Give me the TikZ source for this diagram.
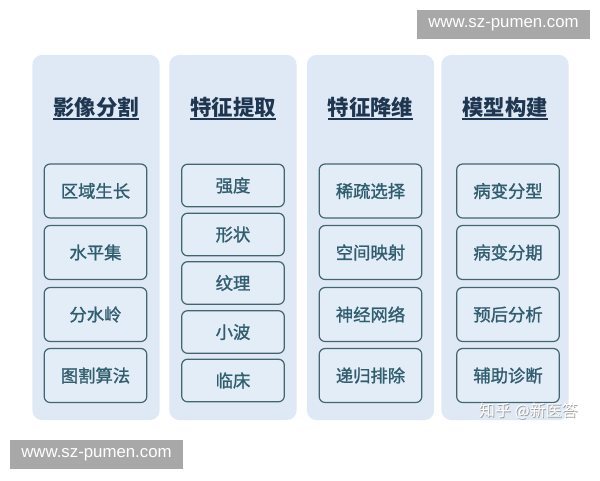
\documentclass[tikz,border=0pt]{standalone}
\usepackage{fontspec}
\newfontfamily\cjk{Noto Sans CJK SC}
\newfontfamily\cjkmed[FakeBold=1.3]{Noto Sans CJK SC}
\newfontfamily\wmfont{Liberation Sans}
\definecolor{panelfill}{HTML}{DFE9F5}
\definecolor{boxfill}{HTML}{E3EDF8}
\definecolor{boxline}{HTML}{42666F}
\definecolor{titlecol}{HTML}{1E3650}
\definecolor{boxtext}{HTML}{315E6E}
\definecolor{wmgray}{HTML}{A8A8A8}
\begin{document}
\begin{tikzpicture}[x=0.75pt,y=-0.75pt,
  panel/.style={fill=panelfill,rounded corners=7.5pt,minimum width=95.5pt,minimum height=274pt,inner sep=0pt},
  coltitle/.style={font=\cjk\bfseries\fontsize{16}{18}\selectfont,text=titlecol,inner sep=0pt},
  tallbox/.style={draw=boxline,line width=0.9pt,fill=boxfill,rounded corners=4.5pt,minimum width=77pt,minimum height=40.5pt,inner sep=0pt,font=\cjkmed\fontsize{13}{15}\selectfont,text=boxtext},
  shortbox/.style={tallbox,minimum height=32pt},
  wmbox/.style={fill=wmgray,inner sep=0pt,font=\wmfont\fontsize{12.6}{14}\selectfont,text=white},
  uline/.style={draw=titlecol,line width=1.1pt}
]
\useasboundingbox (0,0) rectangle (600,480);
% panels
\node[panel] (p1) at (96,237.5) {};
\node[panel] (p2) at (233,237.5) {};
\node[panel] (p3) at (370.5,237.5) {};
\node[panel] (p4) at (505,237.5) {};
% titles
\node[coltitle] (t1) at (96,107) {影像分割};
\node[coltitle] (t2) at (233,107) {特征提取};
\node[coltitle] (t3) at (370.5,107) {特征降维};
\node[coltitle] (t4) at (505,107) {模型构建};
\foreach \t in {t1,t2,t3,t4}{
  \draw[uline] ([yshift=-1.2pt]\t.south west) -- ([yshift=-1.2pt]\t.south east);
}
% column 1
\node[tallbox] (a1) at (95.5,191) {区域生长};
\node[tallbox] (a2) at (95.5,252.5) {水平集};
\node[tallbox] (a3) at (95.5,314.5) {分水岭};
\node[tallbox] (a4) at (95.5,375.5) {图割算法};
% column 2
\node[shortbox] (b1) at (233,185.5) {强度};
\node[shortbox] (b2) at (233,234.5) {形状};
\node[shortbox] (b3) at (233,283) {纹理};
\node[shortbox] (b4) at (233,332) {小波};
\node[shortbox] (b5) at (233,380.5) {临床};
% column 3
\node[tallbox] (c1) at (370.5,191) {稀疏选择};
\node[tallbox] (c2) at (370.5,252.5) {空间映射};
\node[tallbox] (c3) at (370.5,314.5) {神经网络};
\node[tallbox] (c4) at (370.5,375.5) {递归排除};
% column 4
\node[tallbox] (d1) at (508,191) {病变分型};
\node[tallbox] (d2) at (508,252.5) {病变分期};
\node[tallbox] (d3) at (508,314.5) {预后分析};
\node[tallbox] (d4) at (508,375.5) {辅助诊断};
% watermarks
\node[wmbox,minimum width=130pt,minimum height=21.75pt] (w1) at (503.5,24.5) {www.sz-pumen.com};
\node[wmbox,minimum width=130pt,minimum height=21.75pt] (w2) at (96.5,454.5) {www.sz-pumen.com};
\node[font=\cjk\fontsize{12}{14}\selectfont,text=gray!80,inner sep=0pt] (z0) at (529.3,412.3) {知乎 @新医答};
\node[font=\cjk\fontsize{12}{14}\selectfont,text=white,inner sep=0pt] (z1) at (528.5,411.5) {知乎 @新医答};
\end{tikzpicture}
\end{document}
